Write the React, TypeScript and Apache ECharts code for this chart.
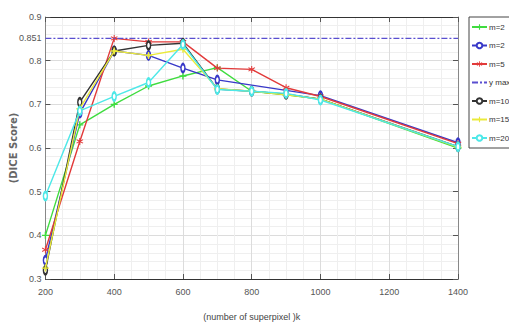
import React, { useEffect, useRef } from "react";
import * as echarts from "echarts";

const xFull = [200, 300, 400, 500, 600, 700, 800, 900, 1000, 1400];
const xBlue = [200, 300, 400, 500, 600, 700, 1000, 1400];
const greenM2 = [0.4, 0.653, 0.7, 0.742, 0.765, 0.784, 0.73, 0.722, 0.712, 0.6];
const blueM2 = [0.343, 0.68, 0.822, 0.812, 0.783, 0.756, 0.72, 0.612];
const redM5 = [0.367, 0.615, 0.851, 0.843, 0.843, 0.783, 0.78, 0.738, 0.718, 0.61];
const blackM10 = [0.32, 0.705, 0.822, 0.835, 0.84, 0.735, 0.73, 0.723, 0.712, 0.603];
const yellowM15 = [0.325, 0.69, 0.822, 0.812, 0.826, 0.736, 0.73, 0.722, 0.712, 0.602];
const cyanM20 = [0.49, 0.685, 0.718, 0.75, 0.837, 0.734, 0.73, 0.725, 0.71, 0.603];
const yMax = 0.851;
const xTicks = [200, 400, 600, 800, 1000, 1200, 1400];

const PLUS = "path://M4,0h2v4h4v2h-4v4h-2v-4h-4v-2h4z";
const STAR = "path://M4.3,0h1.4v3.8l3.3-1.9l0.7,1.2l-3.3,1.9l3.3,1.9l-0.7,1.2l-3.3-1.9v3.8h-1.4v-3.8l-3.3,1.9l-0.7-1.2l3.3-1.9l-3.3-1.9l0.7-1.2l3.3,1.9z";

const FONT = "'Liberation Sans Narrow', 'Arial Narrow', 'Liberation Sans', sans-serif";

function pairs(xs: number[], ys: number[]) {
  return xs.map((x, i) => [x, ys[i]]);
}

export default function App() {
  const ref = useRef<HTMLDivElement>(null);
  useEffect(() => {
    if (!ref.current) return;
    const chart = echarts.init(ref.current, null, { renderer: "svg" });
    const mk = (name: string, color: string, data: number[][], symbol: string, size: any, z: number) => ({
      name,
      type: "line",
      data,
      symbol,
      symbolSize: size,
      z,
      lineStyle: { color, width: 1.4 },
      itemStyle: { color, borderColor: color, borderWidth: symbol === "emptyCircle" ? 1 : 0 },
      emphasis: { disabled: true },
    });
    chart.setOption({
      animation: false,
      backgroundColor: "#fff",
      grid: { left: 37, right: 51, top: 17, bottom: 42 },
      legend: {
        orient: "vertical",
        left: 469,
        top: 17,
        itemWidth: 15,
        itemHeight: 7,
        itemGap: 10.5,
        padding: [6, 30, 6, 2],
        borderColor: "#444",
        borderWidth: 1,
        backgroundColor: "#fff",
        textStyle: { fontFamily: FONT, fontSize: 8, color: "#333", padding: [0, 0, 0, -3] },
        data: [
          "m=2",
          "m=2 ",
          "m=5",
          { name: "y max", itemStyle: { opacity: 0 } },
          "m=10",
          "m=15",
          "m=20",
        ],
      },
      xAxis: [
        {
          type: "value",
          min: 200,
          max: 1400,
          interval: 200,
          name: "(number of superpixel )k",
          nameLocation: "middle",
          nameGap: 33,
          nameTextStyle: { fontFamily: FONT, fontSize: 9, color: "#444" },
          axisLine: { lineStyle: { color: "#333", width: 1 } },
          axisTick: { inside: true, length: 5, lineStyle: { color: "#555" } },
          axisLabel: {
            fontFamily: FONT,
            fontSize: 9,
            color: "#555",
            margin: 8,
            formatter: (v: number) => (xTicks.includes(v) ? String(v) : ""),
          },
          splitLine: { show: true, lineStyle: { color: "#dcdcdc", width: 1 } },
          minorTick: { show: false, splitNumber: 4 },
          minorSplitLine: { show: true, lineStyle: { color: "#efefef", width: 1 } },
        },
        {
          type: "value",
          position: "top",
          min: 200,
          max: 1400,
          interval: 200,
          axisLine: { show: true, lineStyle: { color: "#333", width: 1 } },
          axisTick: { inside: true, length: 5, lineStyle: { color: "#555" } },
          axisLabel: { show: false },
          splitLine: { show: false },
        },
      ],
      yAxis: [
        {
          type: "value",
          min: 0.3,
          max: 0.9,
          interval: 0.1,
          name: "(DICE Score)",
          nameLocation: "middle",
          nameGap: 22,
          nameTextStyle: { fontFamily: "'DejaVu Sans', sans-serif", fontSize: 10, fontWeight: "bold", color: "#666" },
          axisLine: { show: true, lineStyle: { color: "#888", width: 1 } },
          axisTick: { show: true, inside: true, length: 5, lineStyle: { color: "#555" } },
          axisLabel: {
            fontFamily: FONT,
            fontSize: 9,
            color: "#555",
            margin: 4,
            formatter: (v: number) => (Math.round(v * 10) / 10).toFixed(1),
          },
          splitLine: { show: true, lineStyle: { color: "#dcdcdc", width: 1 } },
          minorTick: { show: false, splitNumber: 5 },
          minorSplitLine: { show: true, lineStyle: { color: "#efefef", width: 1 } },
        },
        {
          type: "value",
          position: "right",
          min: 0.3,
          max: 0.9,
          interval: 0.1,
          axisLine: { show: true, lineStyle: { color: "#888", width: 1 } },
          axisTick: { show: true, inside: true, length: 5, lineStyle: { color: "#555" } },
          axisLabel: { show: false },
          splitLine: { show: false },
        },
      ],
      series: [
        mk("m=2", "#3fdc3f", pairs(xFull, greenM2), PLUS, 7, 2),
        mk("m=2 ", "#3838c8", pairs(xBlue, blueM2), "emptyCircle", [4, 8], 3),
        mk("m=5", "#e23a3a", pairs(xFull, redM5), STAR, 7, 4),
        {
          name: "y max",
          type: "line",
          data: [[200, yMax], [1400, yMax]],
          symbol: "none",
          z: 5,
          lineStyle: { color: "#5a4fd0", width: 1.4, type: [6, 2, 2, 2] },
          itemStyle: { color: "#5a4fd0" },
          emphasis: { disabled: true },
        },
        mk("m=10", "#333333", pairs(xFull, blackM10), "emptyCircle", [4, 8], 6),
        mk("m=15", "#eaea3a", pairs(xFull, yellowM15), PLUS, 7, 7),
        mk("m=20", "#4ee8e8", pairs(xFull, cyanM20), "emptyCircle", [4, 8], 8),
      ],
    });
    const p = chart.convertToPixel({ xAxisIndex: 0, yAxisIndex: 0 }, [200, yMax]);
    if (p) {
      chart.setOption({
        graphic: [
          {
            type: "text",
            x: p[0] - 4,
            y: p[1],
            style: {
              text: String(yMax),
              fontFamily: FONT,
              fontSize: 9,
              fill: "#555",
              align: "right",
              verticalAlign: "middle",
            },
          },
        ],
      });
    }
    return () => chart.dispose();
  }, []);
  return <div ref={ref} style={{ width: 509, height: 326, position: "fixed", left: 0, top: 0 }} />;
}
